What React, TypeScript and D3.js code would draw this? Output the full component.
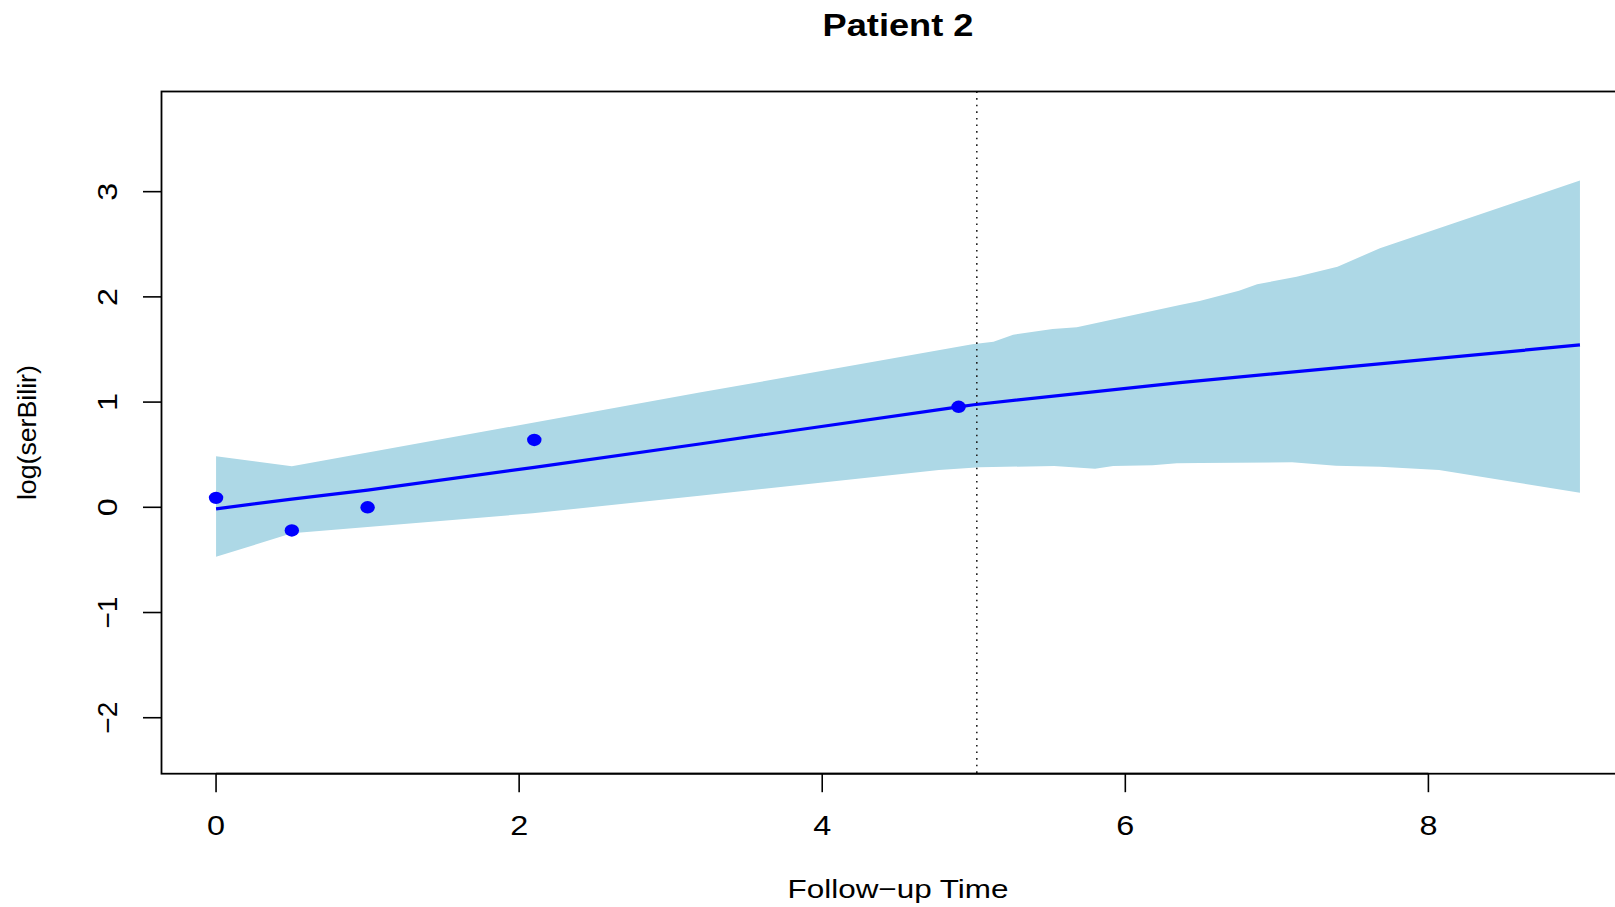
import React, { useEffect } from "react";
import * as d3 from "d3";

// Observed measurements (time, log(serBilir))
const obsTime = [0, 0.5, 1.0, 2.1, 4.9];
const obsValue = [0.09, -0.22, 0.0, 0.64, 0.955];

// Fitted subject-specific trajectory
const fitTime = [0, 0.5, 1.0, 2.1, 3.19, 4.9, 5.0, 6.36, 7.5, 9.0];
const fitValue = [-0.015, 0.078, 0.163, 0.38, 0.602, 0.955, 0.975, 1.185, 1.34, 1.543];

// Upper limit of the prediction band
const upperTime = [0, 0.5, 3.19, 4.99, 5.13, 5.26, 5.52, 5.68, 6.36, 6.49, 6.75, 6.87, 7.13, 7.4, 7.68, 9.0];
const upperValue = [0.485, 0.39, 1.09, 1.549, 1.574, 1.641, 1.695, 1.711, 1.923, 1.961, 2.059, 2.12, 2.192, 2.287, 2.462, 3.105];

// Lower limit of the prediction band
const lowerTime = [0, 0.5, 2.09, 3.19, 4.77, 5.04, 5.53, 5.8, 5.92, 6.18, 6.34, 6.49, 7.1, 7.39, 7.68, 8.07, 9.0];
const lowerValue = [-0.47, -0.247, -0.057, 0.11, 0.354, 0.38, 0.393, 0.367, 0.393, 0.399, 0.418, 0.421, 0.428, 0.395, 0.386, 0.355, 0.139];

const xTicks = [0, 2, 4, 6, 8];
const yTicks = [-2, -1, 0, 1, 2, 3];
const lastTime = 5.02;

const title = "Patient 2";
const xLabel = "Follow\u2212up Time";
const yLabel = "log(serBilir)";

const W = 1615;
const H = 907;
const FONT = "'Liberation Sans', Arial, Helvetica, sans-serif";

export default function App() {
  useEffect(() => {
    document.body.style.margin = "0";
    document.body.style.overflow = "hidden";
  }, []);

  const left = 161.5;
  const right = 1634.5;
  const top = 91.5;
  const bottom = 773.7;

  const x = d3.scaleLinear().domain([-0.36, 9.36]).range([left, right]);
  const y = d3.scaleLinear().domain([-2.532, 3.952]).range([bottom, top]);

  const line = d3
    .line<[number, number]>()
    .x((d) => x(d[0]))
    .y((d) => y(d[1]));

  const upperPts: [number, number][] = upperTime.map((t, i) => [t, upperValue[i]]);
  const lowerPts: [number, number][] = lowerTime.map((t, i) => [t, lowerValue[i]]);
  const bandPath = line([...upperPts, ...lowerPts.slice().reverse()]) + "Z";
  const fitPath = line(fitTime.map((t, i) => [t, fitValue[i]] as [number, number])) || "";

  const fmt = (v: number) => (v < 0 ? "\u2212" + Math.abs(v) : String(v));
  const tickLen = (v: number) => (v < 0 ? undefined : 18);

  return (
    <svg width={W} height={H} style={{ display: "block", position: "absolute", left: 0, top: 0 }}>
      <rect x={0} y={0} width={W} height={H} fill="#fff" />
      <defs>
        <clipPath id="plotClip">
          <rect x={left} y={top} width={right - left} height={bottom - top} />
        </clipPath>
      </defs>
      <g clipPath="url(#plotClip)">
        <path d={bandPath} fill="#ADD8E6" stroke="none" />
        <path d={fitPath} fill="none" stroke="#0000FF" strokeWidth={3.2} />
        {obsTime.map((t, i) => (
          <ellipse key={i} cx={x(t)} cy={y(obsValue[i])} rx={7.2} ry={6.2} fill="#0000FF" />
        ))}
        <line
          x1={x(lastTime)}
          x2={x(lastTime)}
          y1={top}
          y2={bottom}
          stroke="#222"
          strokeWidth={1.6}
          strokeDasharray="1.6,5"
        />
      </g>
      {/* box */}
      <rect x={left} y={top} width={right - left} height={bottom - top} fill="none" stroke="#000" strokeWidth={1.8} />

      {/* x axis */}
      <line x1={x(xTicks[0])} x2={x(xTicks[xTicks.length - 1])} y1={bottom} y2={bottom} stroke="#000" strokeWidth={1.8} />
      {xTicks.map((t) => (
        <g key={t}>
          <line x1={x(t)} x2={x(t)} y1={bottom} y2={bottom + 18.5} stroke="#000" strokeWidth={1.6} />
          <text
            x={x(t)}
            y={835}
            textAnchor="middle"
            fontFamily={FONT}
            fontSize={28}
            textLength={tickLen(t)}
            lengthAdjust="spacingAndGlyphs"
          >
            {fmt(t)}
          </text>
        </g>
      ))}

      {/* y axis */}
      {yTicks.map((v) => (
        <g key={v}>
          <line x1={left} x2={left - 18.5} y1={y(v)} y2={y(v)} stroke="#000" strokeWidth={1.6} />
          <text
            transform={`translate(116.7,${y(v)}) rotate(-90)`}
            textAnchor="middle"
            fontFamily={FONT}
            fontSize={28}
            textLength={tickLen(v)}
            lengthAdjust="spacingAndGlyphs"
          >
            {fmt(v)}
          </text>
        </g>
      ))}

      {/* labels */}
      <text
        x={(left + right) / 2}
        y={36}
        textAnchor="middle"
        fontFamily={FONT}
        fontWeight="bold"
        fontSize={32}
        textLength={151}
        lengthAdjust="spacingAndGlyphs"
      >
        {title}
      </text>
      <text
        x={(left + right) / 2}
        y={898}
        textAnchor="middle"
        fontFamily={FONT}
        fontSize={26}
        textLength={221}
        lengthAdjust="spacingAndGlyphs"
      >
        {xLabel}
      </text>
      <text
        transform={`translate(35.6,${(top + bottom) / 2}) rotate(-90)`}
        textAnchor="middle"
        fontFamily={FONT}
        fontSize={26}
        textLength={135}
        lengthAdjust="spacingAndGlyphs"
      >
        {yLabel}
      </text>
    </svg>
  );
}
